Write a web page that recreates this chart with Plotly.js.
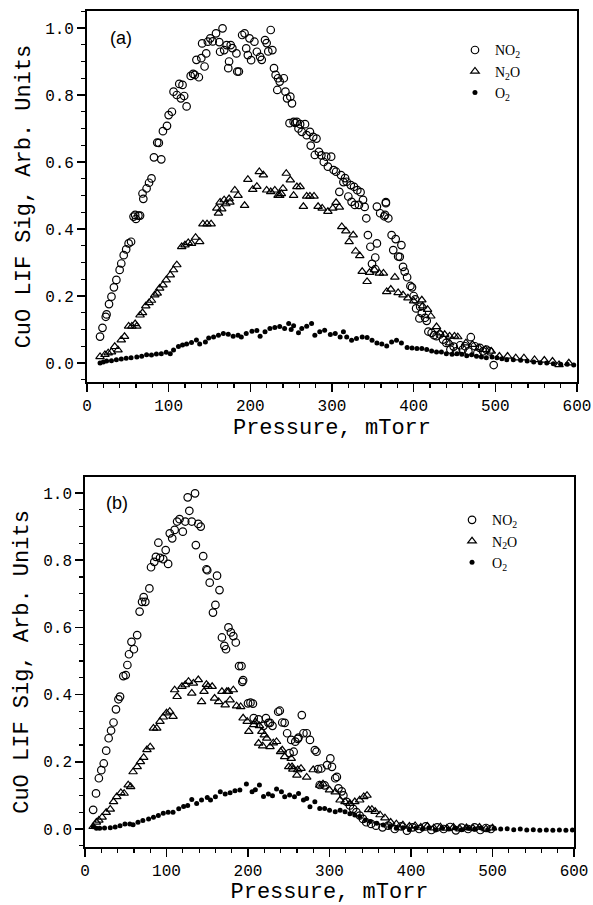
<!DOCTYPE html>
<html>
<head>
<meta charset="utf-8">
<script src="https://cdn.plot.ly/plotly-3.0.1.min.js"></script>
<style>html,body{margin:0;padding:0;background:#fff;}#chart{width:593px;height:905px;}</style>
</head>
<body>
<div id="chart"></div>
<script>
// ---------- Panel (a) ----------
const a_no2_x = [16,19,23,24,27,30,33,36,40,42,45,48,51,54,57,59,60,63,65,68,69,73,76,79,82,86,88,91,93,98,100,104,106,110,113,115,117,119,122,127,130,132,134,137,140,141,144,146,148,151,154,158,162,163,166,168,171,173,174,176,178,183,184,186,190,193,195,197,199,201,205,208,212,214,218,220,222,225,227,229,231,233,234,236,241,243,245,248,249,251,253,255,257,259,261,263,267,269,273,274,277,279,281,284,287,290,293,295,299,302,305,309,311,314,316,318,320,323,324,327,328,331,333,335,338,340,342,344,347,349,353,353,355,355,359,364,365,366,366,369,373,375,378,381,383,385,387,389,392,396,398,400,402,403,407,408,410,414,416,418,422,425,428,432,436,440,445,449,452,457,460,463,467,470,475,478,481,485,489,493,498];
const a_no2_y = [0.079,0.105,0.138,0.145,0.176,0.198,0.226,0.248,0.278,0.297,0.322,0.339,0.357,0.362,0.437,0.442,0.43,0.44,0.44,0.506,0.49,0.521,0.538,0.551,0.614,0.658,0.657,0.608,0.692,0.708,0.74,0.75,0.81,0.8,0.833,0.79,0.83,0.797,0.766,0.857,0.863,0.86,0.905,0.853,0.91,0.954,0.885,0.924,0.959,0.969,0.96,0.984,0.958,0.929,0.999,0.934,0.949,0.88,0.9,0.949,0.94,0.924,0.87,0.87,0.979,0.984,0.939,0.919,0.969,0.904,0.959,0.929,0.914,0.905,0.964,0.955,0.93,0.994,0.934,0.88,0.86,0.815,0.85,0.84,0.85,0.81,0.79,0.716,0.795,0.775,0.72,0.717,0.72,0.7,0.713,0.69,0.713,0.68,0.69,0.649,0.675,0.621,0.67,0.63,0.62,0.6,0.616,0.586,0.616,0.576,0.571,0.511,0.561,0.54,0.552,0.541,0.497,0.531,0.481,0.526,0.472,0.516,0.472,0.51,0.487,0.466,0.432,0.382,0.347,0.296,0.315,0.28,0.357,0.467,0.447,0.438,0.442,0.48,0.477,0.432,0.382,0.337,0.37,0.318,0.317,0.352,0.287,0.273,0.256,0.23,0.226,0.2,0.19,0.163,0.133,0.168,0.149,0.135,0.126,0.094,0.09,0.083,0.08,0.085,0.07,0.06,0.04,0.049,0.035,0.053,0.04,0.05,0.035,0.077,0.05,0.03,0.045,0.035,0.04,0.035,-0.006];

const a_n2o_x = [16,22,26,30,34,38,42,46,51,55,59,61,65,68,72,76,79,83,86,89,93,97,102,106,110,116,120,124,128,133,138,142,147,152,159,161,163,165,168,170,174,175,181,185,193,197,203,208,211,216,220,225,230,234,236,238,240,244,249,253,257,261,265,269,273,278,283,288,295,301,305,309,312,317,321,326,329,334,337,343,346,352,358,363,367,372,377,381,387,393,400,410,411,417,421,428,432,438,444,444,450,454,464,472,480,488,495,505,515,525,535,548,560,570,578,590];
const a_n2o_y = [0.019,0.025,0.03,0.033,0.049,0.039,0.069,0.079,0.11,0.11,0.117,0.11,0.143,0.15,0.17,0.18,0.187,0.203,0.208,0.223,0.233,0.248,0.263,0.278,0.293,0.347,0.352,0.359,0.357,0.375,0.362,0.415,0.415,0.415,0.462,0.447,0.48,0.46,0.487,0.475,0.49,0.48,0.516,0.5,0.47,0.548,0.518,0.527,0.571,0.561,0.516,0.511,0.516,0.5,0.5,0.505,0.521,0.566,0.546,0.5,0.526,0.526,0.467,0.498,0.498,0.498,0.467,0.462,0.452,0.462,0.479,0.465,0.407,0.394,0.362,0.382,0.334,0.32,0.273,0.243,0.27,0.278,0.268,0.268,0.213,0.22,0.256,0.21,0.203,0.194,0.185,0.188,0.17,0.16,0.14,0.108,0.09,0.085,0.08,0.06,0.08,0.078,0.06,0.055,0.045,0.04,0.035,0.02,0.02,0.015,0.015,0.01,0.008,0.005,-0.005,0.0];

const a_o2_x = [16,20,24,30,36,42,48,54,61,67,73,79,85,91,97,102,106,112,117,122,128,134,138,145,149,155,161,167,173,179,185,189,195,202,208,212,218,224,230,236,242,247,250,253,259,263,269,275,279,285,291,298,304,310,314,318,324,330,337,343,349,355,361,367,373,379,385,392,398,404,410,416,422,428,434,440,447,453,459,465,471,477,483,489,496,502,508,514,522,531,539,547,555,563,571,580,588,596];
const a_o2_y = [0.0,0.003,0.006,0.007,0.01,0.012,0.014,0.016,0.018,0.02,0.025,0.024,0.027,0.028,0.032,0.028,0.039,0.049,0.054,0.057,0.061,0.069,0.057,0.063,0.075,0.078,0.083,0.088,0.086,0.08,0.083,0.078,0.088,0.095,0.097,0.08,0.093,0.103,0.106,0.109,0.103,0.118,0.1,0.111,0.09,0.103,0.11,0.118,0.083,0.093,0.098,0.085,0.088,0.078,0.093,0.078,0.068,0.073,0.078,0.076,0.068,0.06,0.057,0.051,0.063,0.068,0.06,0.046,0.045,0.043,0.043,0.04,0.036,0.033,0.033,0.028,0.026,0.028,0.026,0.022,0.025,0.02,0.018,0.016,0.018,0.016,0.013,0.01,0.01,0.008,0.006,0.003,0.001,0.0,-0.002,-0.004,-0.004,-0.006];

// ---------- Panel (b) ----------
const b_no2_x = [10,13.5,17,20,23,26,29,32,35,38,41,43,47,50,52,54,57,60,64,67,70,72,74,79,81,85,87,90,92,96,99,102,104,107,110,113,116,120,123,126,128,131,135,136,139,142,145,149,150,153,157,160,162,165,168,171,173,176,179,182,185,189,192,193,194,200,203,206,207,213,219,222,225,227,230,237,239,242,245,248,251,253,256,258,261,262,266,268,272,276,282,284,286,288,290,294,297,301,303,307,309,311,315,317,321,325,329,333,337,341,345,351,357,365,372,380,388,395,402,410,418,425,432,440,448,455,462,470,478,485,492,498];
const b_no2_y = [0.057,0.106,0.151,0.175,0.195,0.233,0.27,0.293,0.317,0.356,0.386,0.394,0.455,0.458,0.488,0.52,0.557,0.535,0.577,0.647,0.676,0.69,0.676,0.716,0.779,0.795,0.81,0.852,0.807,0.803,0.83,0.789,0.88,0.865,0.89,0.915,0.922,0.885,0.915,0.987,0.947,0.915,0.999,0.845,0.908,0.9,0.812,0.773,0.77,0.733,0.644,0.667,0.754,0.711,0.57,0.545,0.535,0.6,0.585,0.574,0.555,0.485,0.485,0.438,0.443,0.374,0.376,0.373,0.33,0.326,0.307,0.33,0.316,0.316,0.307,0.349,0.352,0.317,0.316,0.285,0.226,0.265,0.23,0.26,0.268,0.272,0.339,0.285,0.285,0.265,0.235,0.23,0.178,0.131,0.18,0.13,0.19,0.21,0.185,0.151,0.155,0.121,0.112,0.1,0.081,0.07,0.06,0.05,0.04,0.03,0.02,0.015,0.01,0.005,0.01,0.0,0.008,-0.005,0.005,0.0,0.008,-0.003,0.005,0.0,0.006,-0.004,0.004,0.0,0.005,-0.003,0.003,0.0];

const b_n2o_x = [10,14,17,21,26,31,35,39,44,48,53,56,59,64,68,72,76,80,84,88,92,96,100,104,108,110,113,119,123,127,131,133,139,143,146,149,151,156,159,164,168,172,174,176,178,182,186,191,194,199,201,207,209,213,214,217,218,220,223,227,231,235,240,242,245,250,253,254,255,260,261,265,272,280,288,292,300,307,313,319,325,331,337,342,346,348,352,356,362,368,375,382,390,398,405,412,420,428,436,444,452,460,468,476,484,492,500];
const b_n2o_y = [0.007,0.02,0.026,0.035,0.049,0.059,0.081,0.096,0.108,0.106,0.131,0.126,0.17,0.185,0.2,0.213,0.236,0.244,0.3,0.3,0.32,0.333,0.345,0.35,0.335,0.414,0.394,0.424,0.429,0.439,0.404,0.434,0.444,0.379,0.409,0.43,0.424,0.424,0.389,0.379,0.409,0.369,0.409,0.409,0.384,0.414,0.366,0.364,0.33,0.32,0.29,0.31,0.319,0.255,0.307,0.29,0.247,0.28,0.27,0.245,0.256,0.26,0.23,0.235,0.215,0.185,0.21,0.185,0.178,0.16,0.176,0.18,0.154,0.176,0.13,0.134,0.116,0.11,0.086,0.081,0.076,0.081,0.086,0.096,0.1,0.057,0.058,0.052,0.042,0.033,0.02,0.015,0.012,0.008,0.01,0.005,0.008,0.003,0.006,0.002,0.005,0.0,0.004,0.002,0.005,0.0,0.003];

const b_o2_x = [10,14,18,24,31,37,43,49,55,59,65,71,78,84,90,96,102,108,115,121,126,131,137,143,150,154,160,166,172,178,184,190,198,205,209,214,219,225,230,235,241,245,251,257,262,268,272,276,282,288,294,300,307,313,319,325,331,337,344,350,358,366,374,382,390,398,406,414,422,430,438,446,454,462,470,478,486,494,502,510,518,526,534,542,550,558,566,574,582,590,598];
const b_o2_y = [0.007,0.002,0.002,0.003,0.004,0.006,0.01,0.015,0.015,0.013,0.02,0.025,0.03,0.035,0.04,0.047,0.05,0.05,0.06,0.067,0.07,0.088,0.076,0.086,0.094,0.086,0.096,0.111,0.104,0.108,0.114,0.116,0.134,0.111,0.117,0.131,0.097,0.104,0.099,0.119,0.111,0.096,0.101,0.096,0.106,0.086,0.091,0.066,0.081,0.061,0.061,0.056,0.051,0.056,0.051,0.045,0.042,0.037,0.027,0.022,0.017,0.012,0.007,0.002,0.004,-0.002,0.003,0.0,0.004,-0.003,0.002,0.0,0.003,-0.002,0.002,0.0,0.003,-0.002,0.002,0.0,0.001,-0.002,0.0,-0.003,-0.002,-0.004,-0.003,-0.004,-0.003,-0.004,-0.003];

const names = ['NO<sub>2</sub>', 'N<sub>2</sub>O', 'O<sub>2</sub>'];
const xTicks = [0,100,200,300,400,500,600];
const yTicks = [0.0,0.2,0.4,0.6,0.8,1.0];

const mNO2 = {symbol:'circle-open', size:7.5, color:'black', line:{width:1.2, color:'black'}};
const mN2O = {symbol:'triangle-up-open', size:7.5, color:'black', line:{width:1.2, color:'black'}};
const mO2  = {symbol:'circle', size:5, color:'black'};

const traces = [
  {x:a_no2_x, y:a_no2_y, name:names[0], mode:'markers', type:'scatter', marker:mNO2, xaxis:'x', yaxis:'y', legend:'legend'},
  {x:a_n2o_x, y:a_n2o_y, name:names[1], mode:'markers', type:'scatter', marker:mN2O, xaxis:'x', yaxis:'y', legend:'legend'},
  {x:a_o2_x,  y:a_o2_y,  name:names[2], mode:'markers', type:'scatter', marker:mO2,  xaxis:'x', yaxis:'y', legend:'legend'},
  {x:b_no2_x, y:b_no2_y, name:names[0], mode:'markers', type:'scatter', marker:mNO2, xaxis:'x2', yaxis:'y2', legend:'legend2'},
  {x:b_n2o_x, y:b_n2o_y, name:names[1], mode:'markers', type:'scatter', marker:mN2O, xaxis:'x2', yaxis:'y2', legend:'legend2'},
  {x:b_o2_x,  y:b_o2_y,  name:names[2], mode:'markers', type:'scatter', marker:mO2,  xaxis:'x2', yaxis:'y2', legend:'legend2'}
];

const mono = 'Liberation Mono, Courier New, monospace';
function xax(domain, anchor){
  return {domain:domain, anchor:anchor, range:[0,600], tickvals:xTicks, ticktext:xTicks.map(String),
    ticks:'outside', ticklen:8, tickwidth:1.5, tickcolor:'black',
    minor:{dtick:20, tick0:0, ticks:'outside', ticklen:4, tickwidth:1.2, tickcolor:'black'},
    showline:true, linecolor:'black', linewidth:1.8, mirror:true, showgrid:false, zeroline:false,
    tickfont:{family:mono, size:16, color:'black'},
    title:{text:'Pressure, mTorr', font:{family:mono, size:22, color:'black'}, standoff:0}, automargin:false};
}
function yax(domain, anchor, range){
  return {domain:domain, anchor:anchor, range:range, tickvals:yTicks, ticktext:yTicks.map(v=>v.toFixed(1)),
    ticks:'outside', ticklen:8, tickwidth:1.5, tickcolor:'black',
    minor:{dtick:0.05, tick0:0, ticks:'outside', ticklen:4, tickwidth:1.2, tickcolor:'black'},
    showline:true, linecolor:'black', linewidth:1.8, mirror:true, showgrid:false, zeroline:false,
    tickfont:{family:mono, size:16, color:'black'},
    title:{text:'CuO LIF Sig, Arb. Units', font:{family:mono, size:22, color:'black'}, standoff:8}, automargin:false};
}

const legFont = {family:'Liberation Serif, Times New Roman, serif', size:14, color:'black'};
const layout = {
  width:593, height:905,
  margin:{l:85, r:16, t:11, b:58},
  paper_bgcolor:'white', plot_bgcolor:'white',
  showlegend:true,
  xaxis: xax([0.004,1], 'y'),
  yaxis: yax([0.5562,1], 'x', [-0.0567,1.0507]),
  xaxis2: xax([0,0.994], 'y2'),
  yaxis2: yax([0,0.4426], 'x2', [-0.0536,1.0476]),
  legend:{x:0.752, y:0.972, xanchor:'left', yanchor:'top', bgcolor:'rgba(0,0,0,0)', borderwidth:0,
    font:legFont, tracegroupgap:0, itemwidth:30},
  legend2:{x:0.746, y:0.410, xanchor:'left', yanchor:'top', bgcolor:'rgba(0,0,0,0)', borderwidth:0,
    font:legFont, tracegroupgap:0, itemwidth:30},
  annotations:[
    {text:'(a)', xref:'x', yref:'y', x:42, y:0.970, showarrow:false, xanchor:'center', yanchor:'middle',
     font:{family:'Liberation Sans, Arial, sans-serif', size:18, color:'black'}},
    {text:'(b)', xref:'x2', yref:'y2', x:39, y:0.970, showarrow:false, xanchor:'center', yanchor:'middle',
     font:{family:'Liberation Sans, Arial, sans-serif', size:18, color:'black'}}
  ]
};

Plotly.newPlot('chart', traces, layout, {displayModeBar:false, staticPlot:true});
</script>
</body>
</html>
